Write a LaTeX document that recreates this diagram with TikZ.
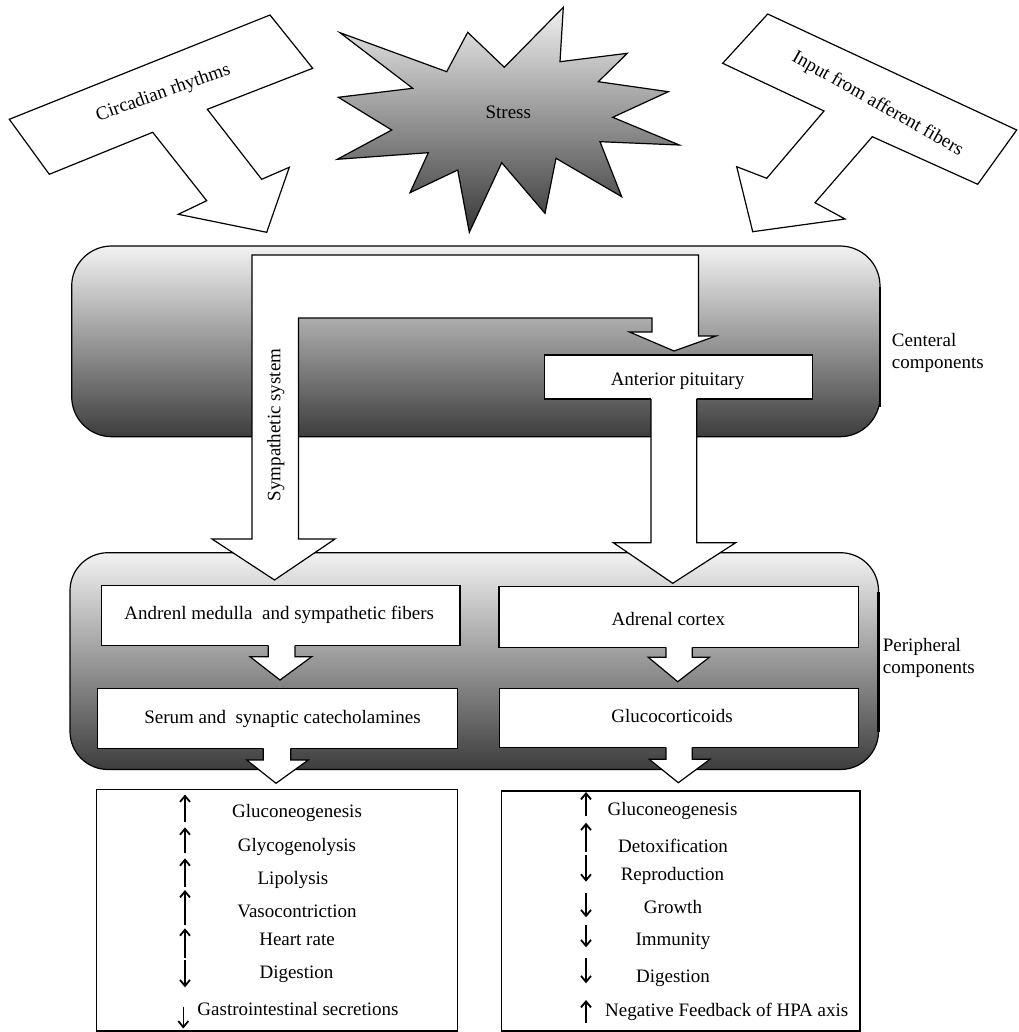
\documentclass[tikz,border=0pt]{standalone}
\usepackage{fontspec}
\setmainfont{Liberation Serif}
\usetikzlibrary{arrows.meta}
\newcommand\mydnarrow[8]{%
  \fill[white] (#1,#3-1) -- (#1,#4) -- (#5,#4) -- (#7,#8) -- (#6,#4) -- (#2,#4) -- (#2,#3-1) -- cycle;
  \draw[outl] (#1,#3) -- (#1,#4) -- (#5,#4) -- (#7,#8) -- (#6,#4) -- (#2,#4) -- (#2,#3);}
\begin{document}
\begin{tikzpicture}[x=1pt,y=-1pt,line join=miter,
  every node/.style={font=\fontsize{19}{22}\selectfont, inner sep=0pt},
  outl/.style={draw=black, line width=1.2pt},
  wbox/.style={outl, fill=white},
  grad/.style={top color=black!5, bottom color=black!76},
  vup/.style={line width=1.5pt, -{Straight Barb[length=6pt,width=10pt,line width=1.8pt]}},
  txt/.style={anchor=base}
]
\useasboundingbox (0,0) rectangle (1018,1032);

% top inputs
\path[wbox] (9.3,119.3) -- (270,15) -- (312.7,68.3) -- (207.3,109.3) -- (261.7,179.3)
  -- (289.3,167.3) -- (266.7,232.3) -- (178.3,214.3) -- (206.7,200.7) -- (152.7,132.3)
  -- (49.3,174.3) -- cycle;
\node[anchor=center, rotate=19.5] (circ) at (163.3,93.3) {Circadian rhythms};

\path[wbox] (767.7,14) -- (1016.7,130) -- (977.7,184.3) -- (872.3,136.7) -- (815,202.7)
  -- (845,219) -- (752.7,231.7) -- (736.7,166.7) -- (766.7,178.3) -- (824,111)
  -- (722.7,63.3) -- cycle;
\node[anchor=center, rotate=-29.5] (inp) at (877.5,104.2) {Input from afferent fibers};

\path[outl, top color=black!6, bottom color=black!78]
  (340,32.7) -- (446.7,71.7) -- (467.7,32.3) -- (504.3,67.3) -- (563.3,7.3) -- (560,61.7)
  -- (627.3,53.3) -- (598.3,81.7) -- (668.3,91.7) -- (612.7,117.3) -- (679.3,145)
  -- (600,141.7) -- (621.7,196.7) -- (556,158.3) -- (545,213.3) -- (501.7,162.7)
  -- (469.3,232.3) -- (457.7,170) -- (410,192.7) -- (428.3,152.7) -- (337.3,159.3)
  -- (391.7,130) -- (338.3,97.3) -- (412.7,88.3) -- cycle;
\node[txt] (stress) at (508.3,118.3) {Stress};

% component panels
\path[grad, outl, rounded corners=40pt] (71.7,246) rectangle (880,436.7);
\draw[line width=2.4pt] (880,287) -- (880,407);
\path[grad, outl, rounded corners=38pt] (70,552.7) rectangle (878.5,769.5);
\draw[line width=2.4pt] (878.5,592) -- (878.5,732);

\node[anchor=base west] (cen1) at (891.7,346) {Centeral};
\node[anchor=base west] (cen2) at (891.7,368.3) {components};
\node[anchor=base west] (per1) at (882.7,651.7) {Peripheral};
\node[anchor=base west] (per2) at (882.7,673.3) {components};

% anterior pituitary
\path[wbox] (544.3,355) rectangle (812.3,399);
\node[txt] (pit) at (677.5,385.7) {Anterior pituitary};

% big white arrow (sympathetic system + input to pituitary)
\path[wbox] (252,255) -- (252,539) -- (212,539) -- (274.5,580) -- (335,539) -- (298.5,539)
  -- (298.5,318) -- (652,318) -- (652,332) -- (629.5,332) -- (674,351) -- (716,336)
  -- (698.5,336) -- (698.5,255) -- cycle;
\node[anchor=center, rotate=90] (symp) at (275.8,425) {Sympathetic system};

\mydnarrow{651}{696.7}{399}{542.7}{613.3}{735.7}{672.7}{583.3}

% peripheral boxes
\path[wbox] (101.7,585.7) rectangle (460,645.7);
\node[txt] (med) at (279.2,619.3) {Andrenl medulla\ \ and sympathetic fibers};
\path[wbox] (97.3,688.3) rectangle (457.3,748.3);
\node[txt] (cat) at (282.5,723.3) {Serum and\ \ synaptic catecholamines};
\path[wbox] (499,586.7) rectangle (858.3,647.3);
\node[txt] (ctx) at (668.3,625) {Adrenal cortex};
\path[wbox] (499.5,688.3) rectangle (858.3,747.3);
\node[txt] (glu) at (672,722.7) {Glucocorticoids};

\mydnarrow{268.3}{295}{645.7}{656.7}{250}{311.7}{280}{680}
\mydnarrow{263.3}{290.7}{748.3}{760}{246.7}{308.3}{276}{783.3}
\mydnarrow{666}{692.3}{647.3}{657.3}{648.3}{709.3}{677.7}{681.7}
\mydnarrow{666}{692.3}{747.3}{759.3}{649.3}{710}{678.3}{782.7}

% effects boxes
\path[outl, line width=1.4pt] (96.7,789.7) rectangle (457.7,1030.8);
\path[outl, line width=1.4pt] (501.7,791) rectangle (860,1030.8);

\node[txt] (l1) at (297,817.3) {Gluconeogenesis};
\node[txt] (l2) at (297,851) {Glycogenolysis};
\node[txt] (l3) at (293,884) {Lipolysis};
\node[txt] (l4) at (297,917.7) {Vasocontriction};
\node[txt] (l5) at (297,945) {Heart rate};
\node[txt] (l6) at (296.5,978.3) {Digestion};
\node[txt] (l7) at (298,1015) {Gastrointestinal secretions};

\draw[vup] (185,821.7) -- (185,794.5);
\draw[vup] (185,853.3) -- (185,827.3);
\draw[vup] (185,887.3) -- (185,858.3);
\draw[vup] (185,925) -- (185,890);
\draw[vup] (185,958.3) -- (185,928.3);
\draw[vup] (185,960) -- (185,987.3);
\draw[vup] (183.3,1006.7) -- (183.3,1028.5);

\node[txt] (r1) at (672.5,815) {Gluconeogenesis};
\node[txt] (r2) at (673,852.7) {Detoxification};
\node[txt] (r3) at (672.5,880.7) {Reproduction};
\node[txt] (r4) at (673,913.3) {Growth};
\node[txt] (r5) at (673,945) {Immunity};
\node[txt] (r6) at (673,982.7) {Digestion};
\node[anchor=base west] (r7) at (605,1016) {Negative Feedback of HPA axis};

\draw[vup] (586,816) -- (586,792);
\draw[vup] (586,851.7) -- (586,822.7);
\draw[vup] (586,855) -- (586,881.7);
\draw[vup] (586,893.3) -- (586,917.3);
\draw[vup] (586,925) -- (586,947.3);
\draw[vup] (586,958.3) -- (586,983.3);
\draw[vup] (586,1022.7) -- (586,1000);
\end{tikzpicture}
\end{document}
